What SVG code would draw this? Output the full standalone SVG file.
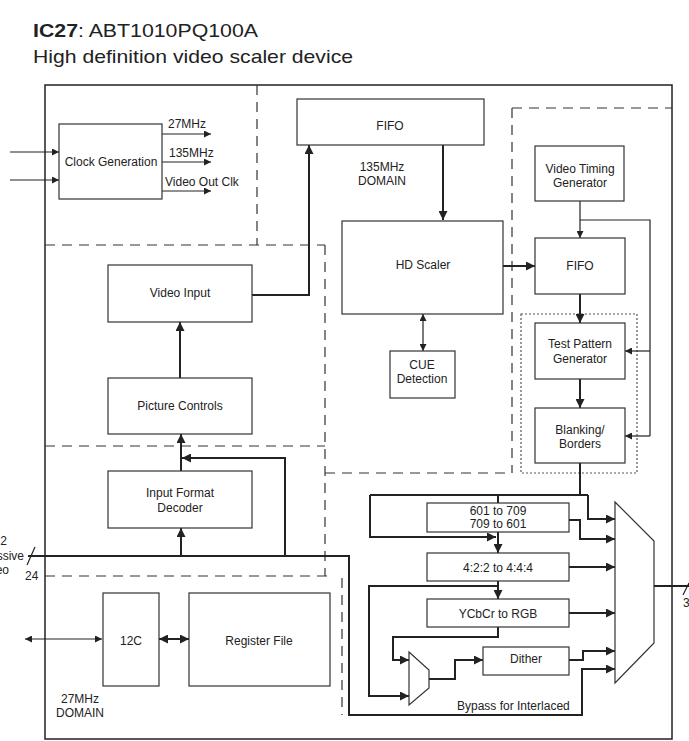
<svg xmlns="http://www.w3.org/2000/svg" width="689" height="741" viewBox="0 0 689 741">
<defs>
<style>
text{font-family:"Liberation Sans",Arial,sans-serif;font-size:12px;fill:#222}
.c{text-anchor:middle}
.e{text-anchor:end}
.box{fill:#fff;stroke:#333;stroke-width:1.2}
.dash{fill:none;stroke:#333;stroke-width:1.2;stroke-dasharray:10,7}
.dot{fill:none;stroke:#555;stroke-width:1.2;stroke-dasharray:2,2}
.thick{fill:none;stroke:#222;stroke-width:2;marker-end:url(#ah)}
.thickn{fill:none;stroke:#222;stroke-width:2}
.thin{fill:none;stroke:#222;stroke-width:1.2;marker-end:url(#as)}
.thinn{fill:none;stroke:#222;stroke-width:1.2}
</style>
<marker id="ah" viewBox="0 0 10 10" refX="10" refY="5" markerWidth="11" markerHeight="9" markerUnits="userSpaceOnUse" orient="auto-start-reverse"><path d="M0,0 L10,5 L0,10 z" fill="#222"/></marker>
<marker id="as" viewBox="0 0 10 10" refX="10" refY="5" markerWidth="8" markerHeight="7" markerUnits="userSpaceOnUse" orient="auto-start-reverse"><path d="M0,0 L10,5 L0,10 z" fill="#222"/></marker>
</defs>
<rect width="689" height="741" fill="#fff"/>

<g id="title">
<text x="33" y="37" style="font-size:19px" textLength="225" lengthAdjust="spacingAndGlyphs"><tspan font-weight="bold">IC27</tspan>: ABT1010PQ100A</text>
<text x="33" y="63" style="font-size:19px" textLength="320" lengthAdjust="spacingAndGlyphs">High definition video scaler device</text>
</g>

<g id="outline">
<rect x="45" y="85" width="627" height="654" fill="none" stroke="#222" stroke-width="1.5"/>
</g>

<g id="domains">
<path class="dash" d="M257,85 V245"/>
<path class="dash" d="M45,245 H325"/>
<path class="dash" d="M325,245 V576"/>
<path class="dash" d="M45,446 H325"/>
<path class="dash" d="M325,473 H512"/>
<path class="dash" d="M512,108 V473"/>
<path class="dash" d="M512,108 H672"/>
<path class="dash" d="M45,576 H333"/>
<path class="dash" d="M342,578 V715"/>
<rect class="dot" x="521" y="314" width="116" height="159"/>
<text class="c" x="382" y="171">135MHz</text>
<text class="c" x="382" y="185">DOMAIN</text>
<text class="c" x="80" y="703">27MHz</text>
<text class="c" x="80" y="717">DOMAIN</text>
</g>

<g id="connectors">
<path class="thin" d="M10,152 H59"/>
<path class="thin" d="M10,180 H59"/>
<path class="thin" d="M162,134 H211"/>
<path class="thin" d="M162,162 H211"/>
<path class="thin" d="M162,191 H211"/>
<text x="168" y="128">27MHz</text>
<text x="169" y="157">135MHz</text>
<text x="165" y="186">Video Out Clk</text>

<path class="thick" d="M252,295 H309 V145"/>
<path class="thick" d="M443,145 V220"/>
<path class="thin" style="marker-start:url(#as)" d="M423,314 V351"/>
<path class="thick" d="M503,266 H535"/>
<path class="thin" d="M580,201 V238"/>
<path class="thinn" d="M580,220 H650 V436"/>
<path class="thin" d="M650,436 H625"/>
<path class="thin" d="M650,351 H625"/>
<path class="thick" d="M580,294 V323"/>
<path class="thick" d="M580,379 V408"/>

<path class="thickn" d="M580,463 V495"/>
<path class="thickn" d="M370,495 H588"/>
<path class="thick" d="M588,495 V519 H615"/>
<path class="thick" d="M370,495 V537 H496"/>
<path class="thickn" d="M498,495 V503"/>
<path class="thick" d="M498,532 V553"/>
<path class="thick" d="M569,520 H580 V539 H615"/>
<path class="thick" d="M569,567 H615"/>
<path class="thick" d="M498,581 V599"/>
<path class="thick" d="M498,586 H369 V696 H409"/>
<path class="thick" d="M569,613 H615"/>
<path class="thick" d="M498,627 V637 H393 V660 H409"/>
<path class="thick" d="M429,679 H455 V660 H483"/>
<path class="thick" d="M569,660 H583 V651 H615"/>
<path class="thick" d="M28,556 H349 V715 H582 V669 H615"/>
<text x="457" y="710">Bypass for Interlaced</text>

<path class="thick" d="M181,556 V528"/>
<path class="thick" d="M181,471 V434"/>
<path class="thick" d="M285,556 V458 H182"/>
<path class="thick" d="M180,378 V322"/>

<path class="thickn" d="M654,586 H689"/>
<path class="thinn" d="M683,595 L689,583"/>
<text x="683" y="607">3</text>

<path class="thinn" d="M27,565 L35,547"/>
<text class="e" x="7" y="545">2</text>
<text class="e" x="24" y="560">ssive</text>
<text class="e" x="9" y="574">eo</text>
<text x="25" y="580">24</text>

<path class="thick" style="marker-start:url(#ah)" d="M159,639 H189"/>
<path class="thin" style="marker-start:url(#as)" d="M25,639 H102"/>
</g>

<g id="clock-generation">
<rect class="box" x="59" y="124" width="103" height="75"/>
<text class="c" x="111" y="166">Clock Generation</text>
</g>
<g id="fifo-in">
<rect class="box" x="297" y="99" width="187" height="46"/>
<text class="c" x="390" y="130">FIFO</text>
</g>
<g id="hd-scaler">
<rect class="box" x="342" y="221" width="161" height="93"/>
<text class="c" x="423" y="269">HD Scaler</text>
</g>
<g id="cue-detection">
<rect class="box" x="390" y="351" width="65" height="47"/>
<text class="c" x="422" y="369">CUE</text>
<text class="c" x="422" y="383">Detection</text>
</g>
<g id="video-timing-generator">
<rect class="box" x="535" y="146" width="89" height="55"/>
<text class="c" x="580" y="173">Video Timing</text>
<text class="c" x="580" y="187">Generator</text>
</g>
<g id="fifo-out">
<rect class="box" x="535" y="238" width="90" height="56"/>
<text class="c" x="580" y="270">FIFO</text>
</g>
<g id="test-pattern-generator">
<rect class="box" x="535" y="323" width="90" height="56"/>
<text class="c" x="580" y="348">Test Pattern</text>
<text class="c" x="580" y="363">Generator</text>
</g>
<g id="blanking-borders">
<rect class="box" x="535" y="408" width="90" height="55"/>
<text class="c" x="580" y="434">Blanking/</text>
<text class="c" x="580" y="448">Borders</text>
</g>
<g id="video-input">
<rect class="box" x="108" y="265" width="144" height="57"/>
<text class="c" x="180" y="297">Video Input</text>
</g>
<g id="picture-controls">
<rect class="box" x="108" y="378" width="144" height="56"/>
<text class="c" x="180" y="410">Picture Controls</text>
</g>
<g id="input-format-decoder">
<rect class="box" x="108" y="471" width="144" height="57"/>
<text class="c" x="180" y="497">Input Format</text>
<text class="c" x="180" y="512">Decoder</text>
</g>
<g id="i2c">
<rect class="box" x="103" y="593" width="56" height="93"/>
<text class="c" x="131" y="645">12C</text>
</g>
<g id="register-file">
<rect class="box" x="189" y="593" width="141" height="93"/>
<text class="c" x="259" y="645">Register File</text>
</g>
<g id="cs-601-709">
<rect class="box" x="427" y="503" width="142" height="29"/>
<text class="c" x="498" y="515">601 to 709</text>
<text class="c" x="498" y="528">709 to 601</text>
</g>
<g id="chroma-422-444">
<rect class="box" x="427" y="553" width="142" height="28"/>
<text class="c" x="498" y="572">4:2:2 to 4:4:4</text>
</g>
<g id="ycbcr-rgb">
<rect class="box" x="427" y="599" width="142" height="28"/>
<text class="c" x="498" y="618">YCbCr to RGB</text>
</g>
<g id="dither">
<rect class="box" x="483" y="647" width="86" height="28"/>
<text class="c" x="526" y="663">Dither</text>
</g>
<g id="small-mux">
<polygon class="box" points="409,652 429,670 429,688 409,705"/>
</g>
<g id="output-mux">
<polygon class="box" points="615,502 654,541 654,643 615,683"/>
</g>
</svg>
